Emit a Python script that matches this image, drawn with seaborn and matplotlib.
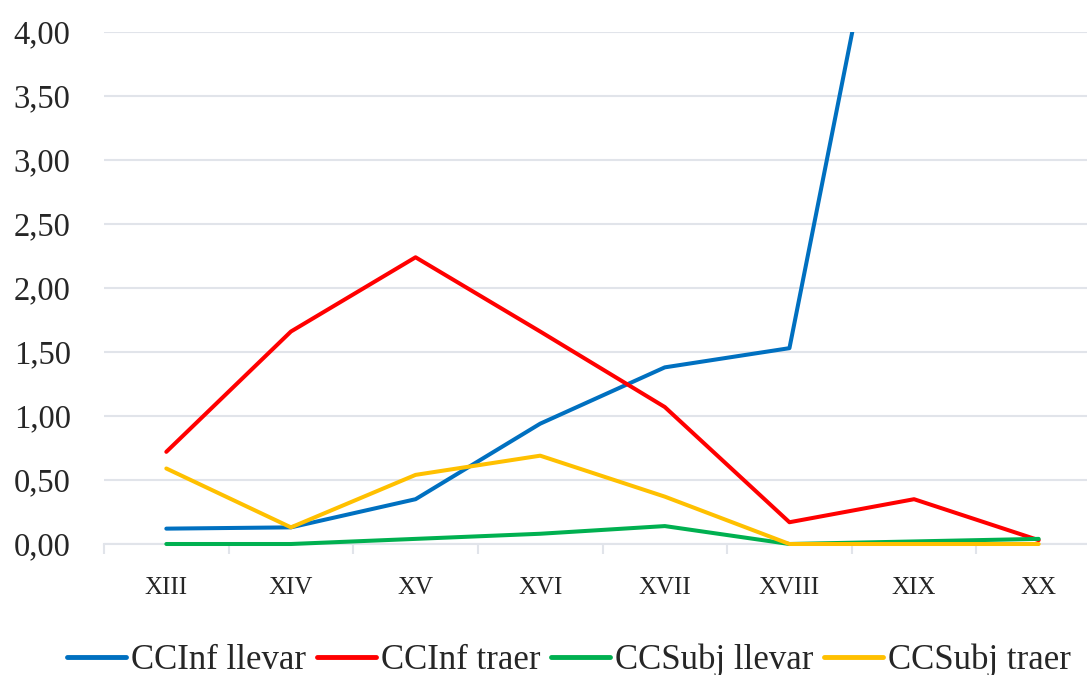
import pandas as pd
import seaborn as sns
import matplotlib.pyplot as plt
from matplotlib.ticker import FixedLocator, FuncFormatter

# -------------------------
# data
# -------------------------
siglos = ['XIII', 'XIV', 'XV', 'XVI', 'XVII', 'XVIII', 'XIX', 'XX']

ccinf_llevar = [0.12, 0.13, 0.35, 0.94, 1.38, 1.53, 6.43, 6.10]   # last two go off the top
ccinf_traer = [0.72, 1.66, 2.24, 1.66, 1.07, 0.17, 0.35, 0.03]
ccsubj_llevar = [0.00, 0.00, 0.04, 0.08, 0.14, 0.00, 0.02, 0.04]
ccsubj_traer = [0.59, 0.13, 0.54, 0.69, 0.37, 0.00, 0.00, 0.00]

series_names = ['CCInf llevar', 'CCInf traer', 'CCSubj llevar', 'CCSubj traer']
colores = ['#0070C0', '#FF0000', '#00B050', '#FFC000']

df = pd.DataFrame({
    'siglo': siglos * 4,
    'valor': ccinf_llevar + ccinf_traer + ccsubj_llevar + ccsubj_traer,
    'serie': [s for s in series_names for _ in siglos],
})

# -------------------------
# plot
# -------------------------
sns.set_style('white')
plt.rcParams['font.family'] = ['Liberation Serif', 'DejaVu Serif']

fig = plt.figure(figsize=(10.87, 6.75), dpi=100)
ax = fig.add_axes([104 / 1087, 131 / 675, 997 / 1087, 512 / 675])

sns.lineplot(data=df, x='siglo', y='valor', hue='serie', hue_order=series_names,
             palette=colores, linewidth=2.9, sort=False, ax=ax, legend=False)

# lines go above the bottom spine; ones sitting on 0 should not be cut in half
# (blue stays clipped at the top)
for i, line in enumerate(ax.lines):
    line.set_zorder(3 + i * 0.01)
    if i > 0:
        line.set_clip_on(False)

ax.set_xlim(-0.5, 7.5)
ax.set_ylim(0, 4)
ax.set_yticks([i * 0.5 for i in range(9)])
ax.yaxis.set_major_formatter(FuncFormatter(lambda v, p: f'{v:.2f}'.replace('.', ',')))
ax.grid(axis='y', color='#E1E4EA', linewidth=1.5)
ax.set_axisbelow(True)

# category boundaries get the tick marks, labels sit in the middle
ax.set_xticks(range(len(siglos)))
ax.set_xticklabels(siglos)
ax.xaxis.set_minor_locator(FixedLocator([i - 0.5 for i in range(len(siglos) + 1)]))
ax.tick_params(axis='x', which='major', length=0, pad=24, labelsize=18)
ax.tick_params(axis='x', which='minor', length=7, width=1.5, color='#E1E4EA', direction='out',
               bottom=True)
ax.tick_params(axis='y', length=0, pad=24, labelsize=23.5)

for side in ['top', 'right', 'left']:
    ax.spines[side].set_visible(False)
ax.spines['bottom'].set_color('#E1E4EA')
ax.spines['bottom'].set_linewidth(1.5)
ax.set_xlabel('')
ax.set_ylabel('')

handles = [plt.Line2D([], [], color=c, linewidth=3.5) for c in colores]
fig.legend(handles, series_names, loc='center', bbox_to_anchor=(0.5235, 0.022), ncol=4,
           frameon=False, fontsize=25, handlelength=1.7, handletextpad=0.15,
           columnspacing=0.3, borderaxespad=0)

fig.savefig('out.png', dpi=100)
